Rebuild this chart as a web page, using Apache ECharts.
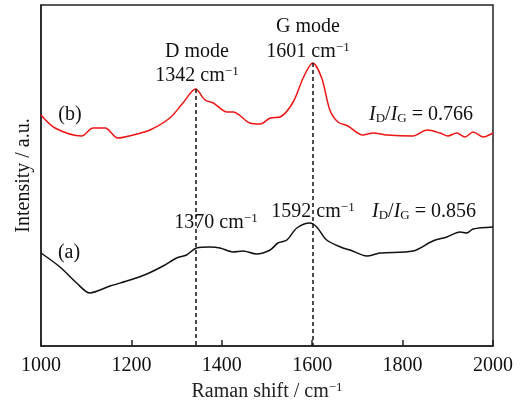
<!DOCTYPE html>
<html>
<head>
<meta charset="utf-8">
<script src="https://cdn.jsdelivr.net/npm/echarts@6/dist/echarts.min.js"></script>
<style>
  html, body { margin: 0; padding: 0; background: #fff; }
  #main { width: 524px; height: 403px; }
</style>
</head>
<body>
<div id="main"></div>
<script>
// spectrum (b), red
var shiftB = [1000, 1031, 1090, 1115, 1142, 1170, 1204, 1241, 1285, 1314, 1342, 1363, 1381, 1412, 1425, 1462, 1485, 1507, 1529, 1558, 1580, 1601, 1621, 1639, 1657, 1679, 1712, 1735, 1765, 1823, 1854, 1883, 1900, 1920, 1938, 1956, 1978, 2000];
var intensityB = [231, 218, 210, 218, 218, 208, 211, 216, 228, 243, 257, 246, 243, 234, 234, 223, 222, 228, 229, 244, 268, 283, 268, 236, 224, 220, 211, 213, 211, 210, 216, 213, 210, 213, 209, 214, 209, 213];
// spectrum (a), black
var shiftA = [1000, 1042, 1079, 1108, 1153, 1197, 1234, 1270, 1300, 1322, 1344, 1374, 1396, 1425, 1447, 1477, 1507, 1524, 1544, 1566, 1595, 1610, 1632, 1668, 1684, 1721, 1750, 1823, 1867, 1898, 1927, 1942, 1956, 2000];
var intensityA = [93, 79, 63, 53, 60, 66, 72, 80, 88, 91, 98, 99, 98, 94, 95, 92, 96, 103, 106, 118, 123, 119, 106, 98, 96, 90, 93, 95, 105, 109, 114, 113, 117, 119];
// dashed guide lines: position and top
var guideShift = [1342, 1601];
var guideTop = [257, 283];

function pairs(xs, ys) {
    var out = [];
    for (var i = 0; i < xs.length; i++) out.push([xs[i], ys[i]]);
    return out;
}

var serif = '"Liberation Serif", "Times New Roman", serif';
var sup = { fontSize: 13, fontFamily: serif, fill: '#111', verticalAlign: 'top', padding: [0, 0, 8, 0] };
var sub = { fontSize: 13, fontFamily: serif, fill: '#111', verticalAlign: 'bottom' };
var it = { fontSize: 20, fontFamily: serif, fontStyle: 'italic', fill: '#111' };
var nrm = { fontSize: 20, fontFamily: serif, fill: '#111' };
var richText = { s: sup, b: sub, i: it, n: nrm };

function label(x, y, text) {
    return {
        type: 'text', x: x, y: y, z: 100,
        style: {
            text: text, rich: richText, fontSize: 20, fontFamily: serif, fill: '#111',
            align: 'center', verticalAlign: 'middle'
        }
    };
}

var chart = echarts.init(document.getElementById('main'));
var guides = [];
for (var g = 0; g < guideShift.length; g++) {
    guides.push([{ coord: [guideShift[g], guideTop[g]] }, { coord: [guideShift[g], 0] }]);
}

chart.setOption({
    animation: false,
    grid: {
        left: 41, right: 31, top: 5, bottom: 57, outerBoundsMode: 'none', containLabel: false,
        show: true, borderColor: '#222', borderWidth: 1.5
    },
    xAxis: {
        type: 'value', min: 1000, max: 2000, interval: 200,
        name: '{n|Raman shift / cm}{s|−1}',
        nameLocation: 'middle', nameGap: 34,
        nameTextStyle: { rich: richText },
        axisLine: { lineStyle: { color: '#222', width: 1.5 } },
        axisTick: { inside: true, length: 6, lineStyle: { color: '#222', width: 1.5 } },
        axisLabel: { fontSize: 20, fontFamily: serif, color: '#111', margin: 10, formatter: function (v) { return String(v); } },
        splitLine: { show: false }
    },
    yAxis: {
        type: 'value', min: 0, max: 341,
        name: 'Intensity / a.u.',
        nameLocation: 'middle', nameGap: 7,
        nameTextStyle: { fontSize: 20, fontFamily: serif, color: '#111' },
        axisLine: { show: true, lineStyle: { color: '#222', width: 1.5 } },
        axisTick: { show: false },
        axisLabel: { show: false },
        splitLine: { show: false }
    },
    series: [
        {
            type: 'line', data: pairs(shiftB, intensityB), smooth: 0.3, symbol: 'none',
            lineStyle: { color: '#f01414', width: 1.5 }, z: 3
        },
        {
            type: 'line', data: pairs(shiftA, intensityA), smooth: 0.3, symbol: 'none',
            lineStyle: { color: '#111', width: 1.5 }, z: 3,
            markLine: {
                silent: true, symbol: 'none', label: { show: false },
                lineStyle: { color: '#111', type: [4, 3], width: 1.5 },
                data: guides
            }
        }
    ],
    graphic: [
        label(308, 27, '{n|G mode}'),
        label(308, 52, '{n|1601 cm}{s|−1}'),
        label(197, 52, '{n|D mode}'),
        label(197, 76, '{n|1342 cm}{s|−1}'),
        label(70, 115, '{n|(b)}'),
        label(421, 115, '{i|I}{b|D}{n|/}{i|I}{b|G}{n| = 0.766}'),
        label(69, 253, '{n|(a)}'),
        label(216, 223, '{n|1370 cm}{s|−1}'),
        label(313, 212, '{n|1592 cm}{s|−1}'),
        label(424, 212, '{i|I}{b|D}{n|/}{i|I}{b|G}{n| = 0.856}')
    ]
});
</script>
</body>
</html>
